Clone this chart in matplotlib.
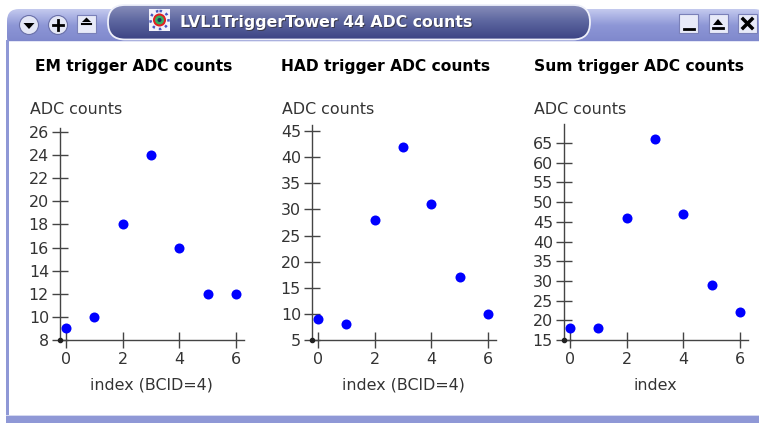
import numpy as np
import matplotlib
matplotlib.use('Agg')
import matplotlib.pyplot as plt
from matplotlib.patches import FancyBboxPatch, Rectangle, Circle, Polygon

W, H = 759, 423

index = [0, 1, 2, 3, 4, 5, 6]
em_counts = [9, 10, 18, 24, 16, 12, 12]
had_counts = [9, 8, 28, 42, 31, 17, 10]
sum_counts = [18, 18, 46, 66, 47, 29, 22]

em_yticks = list(range(8, 27, 2))
had_yticks = list(range(5, 46, 5))
sum_yticks = list(range(15, 66, 5))
xticks = [0, 2, 4, 6]

titles = ['EM trigger ADC counts', 'HAD trigger ADC counts', 'Sum trigger ADC counts']
xlabels = ['index (BCID=4)', 'index (BCID=4)', 'index']
window_title = 'LVL1TriggerTower 44 ADC counts'

fig = plt.figure(figsize=(W / 100, H / 100), dpi=100, facecolor='white')

# window frame, drawn in pixel coordinates
bg = fig.add_axes([0, 0, 1, 1])
bg.axis('off')

frame = '#8f98d6'
bar = np.linspace(0, 1, 40).reshape(-1, 1)
bar_cmap = matplotlib.colors.LinearSegmentedColormap.from_list('bar', ['#c3c9ee', '#8d96d6', '#7f88cc'])
pill_cmap = matplotlib.colors.LinearSegmentedColormap.from_list('pill', ['#8a90bb', '#5c659f', '#3d4585'])

head = FancyBboxPatch((7, 9), W, 40, boxstyle='round,pad=0,rounding_size=12', fc='none', ec='none')
bg.add_patch(head)
im = bg.imshow(bar, extent=(6, W, 42, 9), cmap=bar_cmap, aspect='auto', zorder=1)
im.set_clip_path(head)
bg.add_patch(Rectangle((6, 41), W, 1.5, fc='#e4e6f6', ec='none', zorder=2))
bg.add_patch(Rectangle((6, 40), 3, 376, fc=frame, ec='none', zorder=2))
bg.add_patch(Rectangle((6, 416), W, 7, fc=frame, ec='none', zorder=2))
bg.add_patch(Rectangle((6, 415), W, 1, fc='#d5d9f0', ec='none', zorder=2))

pill = FancyBboxPatch((108, 5), 482, 34.5, boxstyle='round,pad=0,rounding_size=17', fc='none', ec='#eef0fa',
                      lw=1.3, zorder=4)
bg.add_patch(pill)
im2 = bg.imshow(bar, extent=(108, 590, 39.5, 5), cmap=pill_cmap, aspect='auto', zorder=3)
im2.set_clip_path(pill)
bg.set_xlim(0, W)
bg.set_ylim(H, 0)

bg.text(181, 23.5, window_title, color='#3c3c50', fontsize=11.3, fontweight='bold', va='center', zorder=5)
bg.text(180, 22.5, window_title, color='white', fontsize=11.3, fontweight='bold', va='center', zorder=6)

# window icon
bg.add_patch(Rectangle((149, 9), 21, 22, fc='#f2f2fa', ec='none', zorder=5))
bg.add_patch(Circle((159.5, 20), 9, fc='none', ec='#4a58c0', lw=1.8, ls=':', zorder=6))
bg.add_patch(Circle((159.5, 20), 6.5, fc='#e02020', ec='none', zorder=6))
bg.add_patch(Circle((159.5, 20), 4.5, fc='#35b060', ec='none', zorder=7))
bg.add_patch(Circle((159.5, 20), 2, fc='#203060', ec='none', zorder=8))

# left buttons
for cx in [29, 58]:
    bg.add_patch(Circle((cx, 25), 9.5, fc='#e4e7f6', ec='#6a70a8', lw=0.8, zorder=5))
bg.add_patch(Polygon([(23.5, 23), (34.5, 23), (29, 29)], fc='black', zorder=6))
bg.plot([53, 63], [25, 25], color='black', lw=2, zorder=6)
bg.plot([58, 58], [20, 30], color='black', lw=2, zorder=6)
bg.add_patch(Rectangle((77, 15), 19, 18, fc='#e8eaf8', ec='#7a80b8', lw=0.8, zorder=5))
bg.add_patch(Polygon([(82, 22), (91, 22), (86.5, 17.5)], fc='black', zorder=6))
bg.plot([82, 91], [24, 24], color='black', lw=1.5, zorder=6)

# right buttons
for bx in [679, 709, 738]:
    bg.add_patch(Rectangle((bx, 14), 19, 19, fc='#e8eaf8', ec='#7a80b8', lw=0.8, zorder=5))
bg.plot([684, 694], [29, 29], color='black', lw=2, zorder=6)
bg.add_patch(Polygon([(713, 25), (723, 25), (718, 19)], fc='black', zorder=6))
bg.plot([713, 723], [28.5, 28.5], color='black', lw=2, zorder=6)
bg.plot([743, 752], [19, 28], color='black', lw=2.5, zorder=6)
bg.plot([752, 743], [19, 28], color='black', lw=2.5, zorder=6)

# the three panels: y axis x, x=0 pixel, top of y axis, px per y unit
panels = [
    (em_counts, em_yticks, 60, 66, 128, 208 / 18),
    (had_counts, had_yticks, 312, 318, 125, 209 / 40),
    (sum_counts, sum_yticks, 564, 570, 124, 197 / 50),
]
title_x = [134, 386, 639]
axis_color = '#444444'
text_color = '#333333'
px_x = 170 / 6
bottom = 340

for i, (vals, yt, x_left, x0, top, px_y) in enumerate(panels):
    x_right = x0 + 6 * px_x + 8
    ax = fig.add_axes([x_left / W, 1 - bottom / H, (x_right - x_left) / W, (bottom - top) / H])
    ax.patch.set_alpha(0)
    ax.set_xlim((x_left - x0) / px_x, (x_right - x0) / px_x)
    ax.set_ylim(yt[0], yt[0] + (bottom - top) / px_y)
    ax.scatter(index, vals, s=52, color='#0000ff', linewidths=0, zorder=5, clip_on=False)
    for side in ['top', 'right']:
        ax.spines[side].set_visible(False)
    for side in ['left', 'bottom']:
        ax.spines[side].set_color(axis_color)
        ax.spines[side].set_linewidth(1.0)
    ax.set_xticks(xticks)
    ax.set_yticks(yt)
    ax.tick_params(axis='both', direction='inout', length=11, width=1.0, color=axis_color,
                   labelcolor=text_color, labelsize=11.4)
    ax.tick_params(axis='y', pad=2.5)
    ax.tick_params(axis='x', pad=3)
    ax.plot([0], [0], transform=ax.transAxes, marker='o', ms=3, color='#222222', clip_on=False, zorder=6)
    bg.text(title_x[i], 67, titles[i], fontsize=11.2, fontweight='bold', color='black', ha='center', va='center')
    bg.text(x_left - 30, 109, 'ADC counts', fontsize=11.4, color=text_color, ha='left', va='center')
    bg.text(x0 + 3 * px_x, 385, xlabels[i], fontsize=11.4, color=text_color, ha='center', va='center')

fig.savefig('out.png', dpi=100)
